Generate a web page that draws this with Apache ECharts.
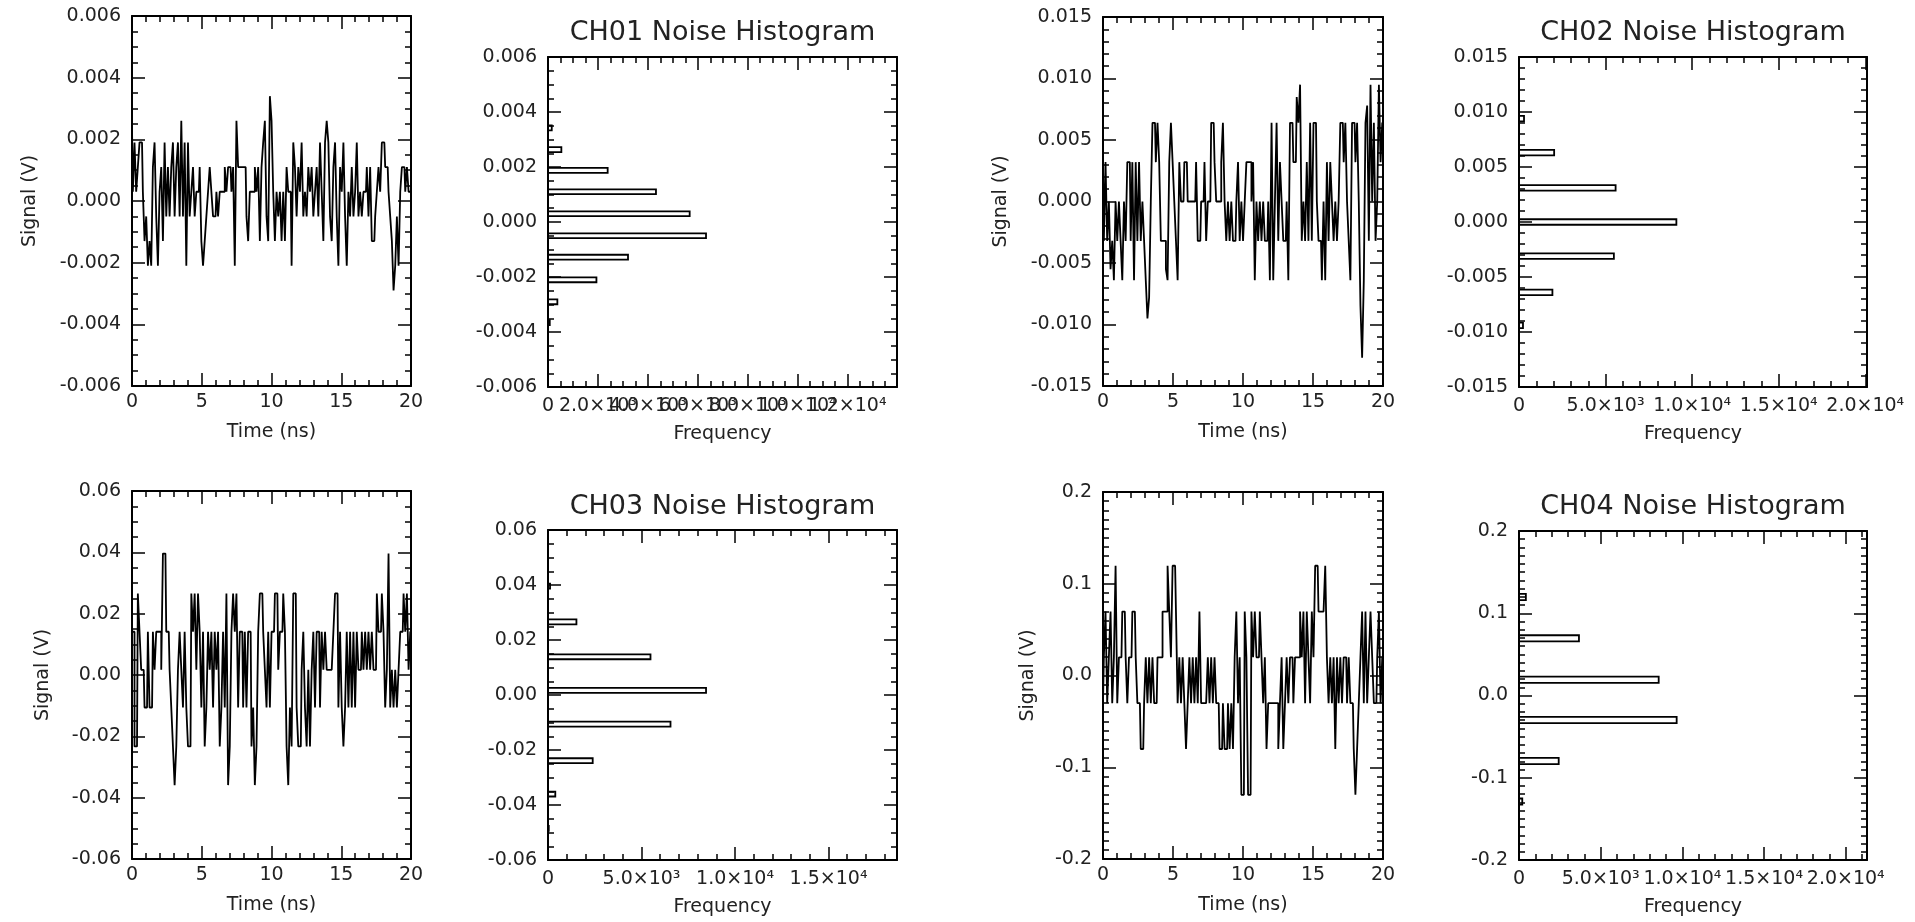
<!DOCTYPE html>
<html><head><meta charset="utf-8">
<script src="https://cdn.jsdelivr.net/npm/echarts@6/dist/echarts.min.js"></script>
<style>html,body{margin:0;padding:0;background:#fff}#c{width:1915px;height:922px}</style>
</head><body><div id="c"></div>
<script>
// ---------------- DATA ----------------
const SAMPLE_PERIOD_NS = 0.1198;   // 168 samples over 20 ns

const ch01Signal = [
0.0024,0.0003,0.0019,0.0003,0.0011,0.0019,0.0019,0.0003,-0.0013,-0.0005,
-0.0021,-0.0013,-0.0021,0.0011,0.0019,-0.0005,-0.0021,0.0003,0.0011,-0.0013,
0.0019,-0.0005,0.0011,-0.0005,0.0011,0.0019,-0.0005,0.0011,0.0019,-0.0005,
0.0026,-0.0005,0.0019,-0.0021,0.0019,-0.0005,0.0003,0.0011,-0.0005,0.0003,
0.0003,0.0011,-0.0013,-0.0021,-0.0013,-0.0005,0.0003,0.0011,0.0003,-0.0005,
-0.0005,0.0003,-0.0005,0.0003,0.0003,0.0003,0.0011,0.0003,0.0011,0.0011,
0.0003,0.0011,-0.0021,0.0026,0.0011,0.0011,0.0011,0.0011,0.0011,-0.0005,
-0.0013,0.0003,0.0003,0.0003,0.0011,0.0003,0.0011,-0.0013,0.0011,0.0019,
0.0026,-0.0005,-0.0013,0.0034,0.0026,0.0003,-0.0013,0.0003,-0.0005,0.0003,
-0.0013,0.0003,-0.0013,0.0011,0.0003,0.0003,-0.0021,0.0019,0.0011,-0.0005,
0.0011,0.0003,0.0019,-0.0005,0.0003,-0.0005,0.0011,0.0003,0.0011,-0.0005,
0.0003,0.0011,-0.0005,0.0019,0.0003,-0.0013,0.0019,0.0026,0.0019,-0.0005,
-0.0013,0.0011,0.0019,-0.0005,-0.0021,0.0011,0.0003,0.0019,-0.0005,-0.0021,
0.0003,-0.0005,0.0011,-0.0005,0.0003,0.0019,-0.0005,0.0003,-0.0005,0.0003,
0.0003,0.0011,-0.0005,0.0011,-0.0013,-0.0013,-0.0005,0.0003,0.0011,0.0003,
0.0019,0.0019,0.0011,0.0011,0.0003,-0.0005,-0.0013,-0.0029,-0.0021,-0.0005,
-0.0021,0.0003,0.0011,0.0011,0.0003,0.0011,0.0003,0.0003];

const ch02Signal = [
0.0032,-0.0032,0.0032,-0.0032,0,-0.0055,-0.0032,-0.0064,0,-0.0032,
0,-0.0032,-0.0064,0,-0.0032,0.0032,0.0032,-0.0032,0.0032,-0.0064,
0.0032,-0.0032,0.0032,-0.0032,0,-0.0032,-0.0064,-0.0095,-0.0078,0,
0.0064,0.0064,0.0032,0.0064,0.0032,-0.0032,-0.0032,-0.0032,-0.0055,-0.0064,
0.0032,0.0064,0.0032,0,-0.0032,-0.0064,0.0032,0,0,0.0032,
0.0032,0,0,0,0,0,0.0032,-0.0032,-0.0032,0,
0,0.0032,-0.0032,0,0,0.0064,0.0064,0.0032,0,0,
0,0.0032,0.0064,0,-0.0032,0,-0.0032,0,-0.0032,-0.0032,
0,0.0032,-0.0032,0,-0.0032,0,0.0032,0.0032,0.0032,0,
0.0032,-0.0064,0,-0.0032,0,-0.0032,0,-0.0032,-0.0032,0,
-0.0064,0.0064,-0.0064,0,0.0064,-0.0032,0.0032,0,-0.0032,-0.0032,
0,-0.0064,0.0064,0.0064,0.0032,0.0032,0.0085,0.0064,0.0095,-0.0032,
0,-0.0032,0.0032,-0.0032,0.0064,-0.0032,0.0064,0.0064,0,-0.0032,
-0.0032,-0.0064,0,-0.0064,0.0032,-0.0032,0.0032,0,-0.0032,0,
-0.0032,0,0.0064,0.0064,0.0032,0.0064,0,-0.0032,-0.0064,0.0064,
0.0064,0.0032,0.0064,0,-0.0085,-0.0127,-0.0064,0.0064,0.0078,-0.0032,
0.0095,0,0.0064,-0.0032,0,0.0095,0.0032,0.0064];

const ch03Signal = [
0.0141,0.0141,-0.0233,-0.0233,0.0266,0.0141,0.0017,0.0017,-0.0106,-0.0106,
0.0141,-0.0106,-0.0106,0.0141,0.0017,0.0141,0.0141,0.0141,0.0017,0.0396,
0.0396,0.0141,0.0141,0.0017,-0.0106,-0.0233,-0.0359,-0.0233,0.0017,0.0141,
0.0017,-0.0106,0.0141,-0.0106,-0.0233,-0.0233,0.0266,0.0141,0.0266,0.0017,
0.0266,0.0141,-0.0106,0.0141,-0.0233,-0.0106,0.0141,0.0017,0.0141,-0.0106,
0.0141,0.0017,0.0141,-0.0233,-0.0106,0.0141,-0.0106,0.0266,-0.0359,-0.0233,
0.0141,0.0266,0.0141,0.0266,-0.0106,0.0141,0.0141,-0.0106,0.0141,-0.0106,
0.0141,0.0141,-0.0233,-0.0106,-0.0359,-0.0233,0.0141,0.0266,0.0266,0.0141,
0.0017,-0.0106,0.0141,-0.0106,0.0141,0.0141,0.0266,0.0266,0.0017,0.0141,
0.0141,0.0266,0.0141,-0.0233,-0.0359,-0.0106,-0.0233,0.0266,0.0266,-0.0106,
-0.0233,-0.0233,0.0017,0.0141,-0.0106,-0.0233,0.0017,-0.0233,0.0017,0.0141,
-0.0106,0.0141,0.0141,-0.0106,0.0141,0.0017,0.0141,0.0017,0.0017,0.0017,
0.0017,0.0141,0.0266,0.0266,-0.0106,0.0141,-0.0106,-0.0233,-0.0106,0.0141,
-0.0106,0.0141,-0.0106,0.0141,-0.0106,0.0141,0.0017,0.0017,0.0141,0.0017,
0.0141,0.0017,0.0141,0.0017,0.0141,0.0017,0.0017,0.0266,0.0141,0.0141,
0.0266,0.0141,-0.0106,0.0017,0.0396,-0.0106,0.0017,-0.0106,0.0017,-0.0106,
0.0017,0.0141,0.0141,0.0266,0.0141,0.0266,0.0017,0.0141];

const ch04Signal = [
-0.0302,0.0198,0.0697,-0.0302,0.0198,0.0697,-0.0302,0.0198,0.1196,-0.0302,
0.0198,0.0198,0.0697,0.0697,0.0198,-0.0302,0.0198,0.0198,0.0697,0.0697,
0.0198,-0.0302,-0.0302,-0.0801,-0.0801,-0.0302,0.0198,-0.0302,0.0198,-0.0302,
0.0198,-0.0302,-0.0302,0.0198,0.0198,0.0198,0.0697,0.0697,0.0697,0.1196,
0.0697,0.0198,0.1196,0.1196,0.0697,-0.0302,0.0198,-0.0302,0.0198,-0.0302,
-0.0801,-0.0302,0.0198,-0.0302,0.0198,-0.0302,0.0198,-0.0302,0.0697,-0.0302,
-0.0302,-0.0302,-0.0302,0.0198,-0.0302,0.0198,-0.0302,0.0198,-0.0302,-0.0302,
-0.0801,-0.0801,-0.0302,-0.0801,-0.0801,-0.0302,-0.0801,-0.0302,-0.0801,0.0198,
0.0697,-0.0302,0.0198,-0.13,-0.13,0.0697,0.0198,-0.13,-0.13,0.0697,
0.0198,0.0697,0.0198,0.0198,0.0697,0.0198,-0.0302,0.0198,-0.0801,-0.0302,
-0.0302,-0.0302,-0.0302,-0.0302,-0.0302,-0.0801,-0.0302,0.0198,-0.0801,-0.0302,
0.0198,-0.0302,0.0198,0.0198,-0.0302,0.0198,0.0198,0.0198,0.0697,0.0198,
0.0697,-0.0302,0.0697,0.0198,-0.0302,0.0697,0.0198,0.1196,0.1196,0.0697,
0.0697,0.0697,0.0697,0.1196,0.0198,-0.0302,0.0198,-0.0302,0.0198,-0.0801,
0.0198,-0.0302,0.0198,-0.0302,0.0198,0.0198,-0.0302,0.0198,-0.0302,-0.0302,
-0.0801,-0.13,-0.0801,-0.0302,0.0198,0.0697,-0.0302,0.0697,-0.0302,0.0198,
0.0697,0.0198,-0.0302,-0.0302,0.0198,0.0697,-0.0302,0.0198];

// histograms: signal level (bin centre, V), counts, bin width (V)
const ch01HistLevels = [0.00342, 0.00263, 0.00188, 0.00110, 0.00030, -0.00050, -0.00128, -0.00210, -0.00290, -0.00366];
const ch01HistCounts = [150, 535, 2390, 4325, 5675, 6330, 3205, 1940, 375, 70];
const ch01BinWidth = 0.00018;

const ch02HistLevels = [0.0094, 0.0063, 0.0031, 0.0000, -0.0031, -0.0064, -0.0094];
const ch02HistCounts = [290, 2030, 5580, 9090, 5480, 1930, 230];
const ch02BinWidth = 0.0005;

const ch03HistLevels = [0.0396, 0.0266, 0.0139, 0.0017, -0.0106, -0.0239, -0.0360, -0.0485];
const ch03HistCounts = [110, 1520, 5480, 8450, 6550, 2390, 390, 40];
const ch03BinWidth = 0.0018;

const ch04HistLevels = [0.1198, 0.0695, 0.0192, -0.0298, -0.0796, -0.1290];
const ch04HistCounts = [420, 3670, 8550, 9650, 2430, 200];
const ch04BinWidth = 0.0075;

const histTitles = ['CH01 Noise Histogram', 'CH02 Noise Histogram', 'CH03 Noise Histogram', 'CH04 Noise Histogram'];

// ---------------- LAYOUT / STYLE ----------------
const FONT = 'DejaVu Sans';
const TXT = '#222';
const SUP = {'0':'\u2070','1':'\u00b9','2':'\u00b2','3':'\u00b3','4':'\u2074','5':'\u2075','6':'\u2076','7':'\u2077','8':'\u2078','9':'\u2079'};
function fixed(dec){ return v => { if (Math.abs(v) < 1e-12) v = 0; return v.toFixed(dec); }; }
function sci(major){ return v => {
  if (v < 1e-9) return '';
  const r = v / major; if (Math.abs(r - Math.round(r)) > 1e-6) return '';
  const e = Math.floor(Math.log10(v) + 1e-9); const m = v / Math.pow(10, e);
  return m.toFixed(1) + '\u00d710' + String(e).split('').map(c => SUP[c]).join('');
}; }
const zeroOnly = v => (Math.abs(v) < 1e-9 ? '0' : '');

const waveX = {min:0, max:20, major:5, minor:1, majorFmt: v => String(Math.round(v)), name:'Time (ns)', nameGap:37, labelMargin:7};

const panels = [
  {kind:'wave', sig: ch01Signal, grid:[132,16,279,370],
   y:{min:-0.006,max:0.006,major:0.002,minor:0.0005,majorFmt:fixed(3),name:'Signal (V)',nameGap:92,labelMargin:11}},
  {kind:'hist', lv: ch01HistLevels, ct: ch01HistCounts, bw: ch01BinWidth, title: histTitles[0], grid:[548,57,349,330], titleY:33,
   x:{min:0,max:13980,major:2000,minor:500,majorFmt:sci(2000),minorFmt:zeroOnly,name:'Frequency',nameGap:38,labelMargin:10},
   y:{min:-0.006,max:0.006,major:0.002,minor:0.0005,majorFmt:fixed(3),labelMargin:11}},
  {kind:'wave', sig: ch02Signal, grid:[1103,17,280,369],
   y:{min:-0.015,max:0.015,major:0.005,minor:0.001,majorFmt:fixed(3),name:'Signal (V)',nameGap:92,labelMargin:11}},
  {kind:'hist', lv: ch02HistLevels, ct: ch02HistCounts, bw: ch02BinWidth, title: histTitles[1], grid:[1519,57,348,330], titleY:33,
   x:{min:0,max:20100,major:5000,minor:1000,majorFmt:sci(5000),minorFmt:zeroOnly,name:'Frequency',nameGap:38,labelMargin:10},
   y:{min:-0.015,max:0.015,major:0.005,minor:0.001,majorFmt:fixed(3),labelMargin:11}},
  {kind:'wave', sig: ch03Signal, grid:[132,491,279,368],
   y:{min:-0.06,max:0.06,major:0.02,minor:0.005,majorFmt:fixed(2),name:'Signal (V)',nameGap:79,labelMargin:11}},
  {kind:'hist', lv: ch03HistLevels, ct: ch03HistCounts, bw: ch03BinWidth, title: histTitles[2], grid:[548,530,349,330], titleY:507,
   x:{min:0,max:18660,major:5000,minor:1000,majorFmt:sci(5000),minorFmt:zeroOnly,name:'Frequency',nameGap:38,labelMargin:10},
   y:{min:-0.06,max:0.06,major:0.02,minor:0.005,majorFmt:fixed(2),labelMargin:11}},
  {kind:'wave', sig: ch04Signal, grid:[1103,492,280,367],
   y:{min:-0.2,max:0.2,major:0.1,minor:0.01,majorFmt:fixed(1),name:'Signal (V)',nameGap:65,labelMargin:11}},
  {kind:'hist', lv: ch04HistLevels, ct: ch04HistCounts, bw: ch04BinWidth, title: histTitles[3], grid:[1519,531,348,329], titleY:507,
   x:{min:0,max:21300,major:5000,minor:1000,majorFmt:sci(5000),minorFmt:zeroOnly,name:'Frequency',nameGap:38,labelMargin:10},
   y:{min:-0.2,max:0.2,major:0.1,minor:0.01,majorFmt:fixed(1),labelMargin:11}}
];

const grids = [], xAxes = [], yAxes = [], series = [], graphics = [];

function addAxes(list, gi, dim, spec) {
  const sides = dim === 'x' ? ['bottom', 'top'] : ['left', 'right'];
  const mainIndex = list.length;
  sides.forEach((pos, si) => {
    [0, 1].forEach(mi => {
      const primary = si === 0;
      const fmt = primary ? (mi === 0 ? spec.majorFmt : spec.minorFmt) : null;
      list.push({
        type: 'value', gridIndex: gi, position: pos, min: spec.min, max: spec.max,
        interval: mi === 0 ? spec.major : spec.minor,
        z: 5,
        axisLine: {show: mi === 0, onZero: false, lineStyle: {color: '#000', width: 2}},
        axisTick: {show: true, inside: true, length: mi === 0 ? 13 : 6, lineStyle: {color: '#000', width: 1.5}},
        axisLabel: fmt ? {show: true, formatter: fmt, margin: spec.labelMargin, hideOverlap: false,
                          fontFamily: FONT, fontSize: 19, color: TXT} : {show: false},
        splitLine: {show: false}, minorTick: {show: false}, minorSplitLine: {show: false},
        name: (primary && mi === 0 && spec.name) ? spec.name : '',
        nameLocation: 'middle', nameGap: spec.nameGap || 30,
        nameTextStyle: {fontFamily: FONT, fontSize: 19, color: TXT},
        silent: true
      });
    });
  });
  return mainIndex;
}

panels.forEach((p, gi) => {
  const [l, t, w, h] = p.grid;
  grids.push({left: l, top: t, width: w, height: h, containLabel: false, outerBoundsMode: 'none'});
  const xi = addAxes(xAxes, gi, 'x', p.kind === 'wave' ? waveX : p.x);
  const yi = addAxes(yAxes, gi, 'y', p.y);
  if (p.kind === 'wave') {
    series.push({
      type: 'line', xAxisIndex: xi, yAxisIndex: yi,
      data: p.sig.map((v, i) => [i * SAMPLE_PERIOD_NS, v]),
      step: 'middle', symbol: 'none', showSymbol: false, clip: true,
      lineStyle: {color: '#000', width: 1.8}, animation: false, silent: true, z: 2
    });
  } else {
    const bw = p.bw;
    series.push({
      type: 'custom', coordinateSystem: 'cartesian2d', xAxisIndex: xi, yAxisIndex: yi,
      data: p.lv.map((lv, i) => [p.ct[i], lv]),
      encode: {x: 0, y: 1},
      renderItem: (params, api) => {
        const c = api.value(0), lv = api.value(1);
        const a = api.coord([0, lv + bw / 2]);
        const b = api.coord([c, lv - bw / 2]);
        return {type: 'rect', shape: {x: a[0], y: a[1], width: b[0] - a[0], height: b[1] - a[1]},
                style: {fill: '#fff', stroke: '#000', lineWidth: 1.8}};
      },
      animation: false, silent: true, z: 2
    });
    graphics.push({type: 'text', x: l + w / 2, y: p.titleY, silent: true,
      style: {text: p.title, fontFamily: FONT, fontSize: 27, fill: TXT, align: 'center', verticalAlign: 'middle',
              textAlign: 'center', textVerticalAlign: 'middle'}});
  }
});

const chart = echarts.init(document.getElementById('c'), null, {renderer: 'canvas'});
chart.setOption({
  animation: false,
  backgroundColor: '#fff',
  grid: grids, xAxis: xAxes, yAxis: yAxes, series: series, graphic: graphics
});
</script>
</body></html>
